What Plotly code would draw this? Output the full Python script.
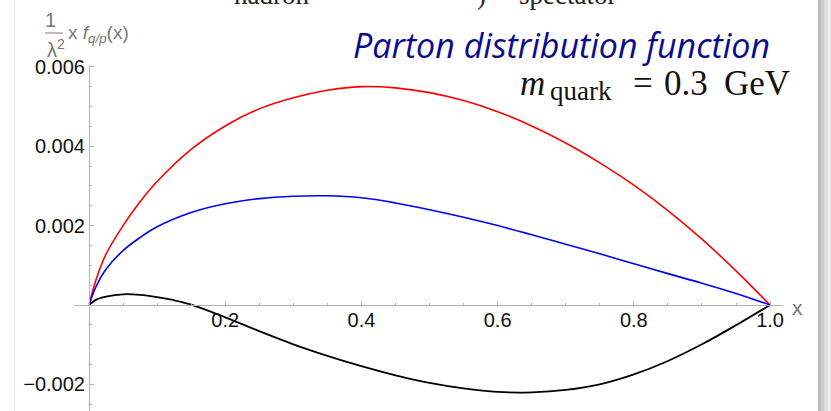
import plotly.graph_objects as go

# Parton distribution curves, (1/lambda^2) x f_{q/p}(x), m_quark = 0.3 GeV
x_red = [0, 0.01, 0.025, 0.05, 0.075, 0.1, 0.15, 0.2, 0.25, 0.3, 0.35, 0.4,
         0.45, 0.5, 0.55, 0.6, 0.65, 0.7, 0.75, 0.8, 0.85, 0.9, 0.95, 1.0]
y_red = [0, 0.00062, 0.00128, 0.00200, 0.00260, 0.00311, 0.00392, 0.00451,
         0.00494, 0.00522, 0.00541, 0.00550, 0.00547, 0.00535, 0.00515,
         0.00487, 0.00451, 0.00408, 0.00358, 0.00302, 0.00238, 0.00166,
         0.00086, 0]

x_blue = [0, 0.01, 0.025, 0.05, 0.075, 0.1, 0.15, 0.2, 0.25, 0.3, 0.35, 0.4,
          0.45, 0.5, 0.55, 0.6, 0.65, 0.7, 0.75, 0.8, 0.85, 0.9, 0.95, 1.0]
y_blue = [0, 0.00045, 0.00090, 0.00137, 0.00170, 0.00197, 0.00233, 0.00255,
          0.00268, 0.00274, 0.00275, 0.00270, 0.00257, 0.00240, 0.00221,
          0.00200, 0.00177, 0.00153, 0.00129, 0.00104, 0.00079, 0.00055,
          0.00029, 0]

x_black = [0, 0.01, 0.025, 0.05, 0.075, 0.1, 0.125, 0.15, 0.2, 0.25, 0.3,
           0.35, 0.4, 0.45, 0.5, 0.55, 0.6, 0.65, 0.7, 0.75, 0.8, 0.85, 0.9,
           0.95, 1.0]
y_black = [0, 0.00013, 0.00021, 0.00027, 0.000255, 0.00020, 0.00012, 0.00001,
           -0.00031, -0.00066, -0.00099, -0.00128, -0.00154, -0.00177,
           -0.00196, -0.00210, -0.00219, -0.00220, -0.00214, -0.00200,
           -0.00175, -0.00141, -0.00099, -0.00051, 0]

x_ticks = [0.2, 0.4, 0.6, 0.8, 1.0]
x_ticklabels = ["0.2", "0.4", "0.6", "0.8", "1.0"]
y_ticks = [-0.002, 0, 0.002, 0.004, 0.006]
y_ticklabels = ["\u22120.002", "", "0.002", "0.004", "0.006"]

W, H = 831, 411
ML, MR, MT, MB = 74, 48, 65, 0
X_RANGE = [-0.022, 1.019]
Y_RANGE = [-0.00267, 0.006045]
AXIS_GRAY = "#b4b4b4"
LABEL_GRAY = "#777777"
SANS = "Liberation Sans, Arial, sans-serif"
SERIF = "Liberation Serif, Times New Roman, serif"


def px(xp):
    """page pixel x -> paper x"""
    return (xp - ML) / (W - ML - MR)


def py(yp):
    """page pixel y -> paper y"""
    return (H - MB - yp) / (H - MT - MB)


fig = go.Figure()
fig.add_trace(go.Scatter(x=x_red, y=y_red, mode="lines", line_shape="spline",
                         line=dict(color="#ff0000", width=1.6)))
fig.add_trace(go.Scatter(x=x_blue, y=y_blue, mode="lines", line_shape="spline",
                         line=dict(color="#0000ff", width=1.6)))
fig.add_trace(go.Scatter(x=x_black, y=y_black, mode="lines", line_shape="spline",
                         line=dict(color="#000000", width=1.8)))

# axes cross at the origin
x0_paper = (0 - X_RANGE[0]) / (X_RANGE[1] - X_RANGE[0])
y0_paper = (0 - Y_RANGE[0]) / (Y_RANGE[1] - Y_RANGE[0])

tickfont = dict(family=SANS, size=20, color="#111111")

fig.update_layout(
    width=W, height=H,
    margin=dict(l=ML, r=MR, t=MT, b=MB, autoexpand=False),
    paper_bgcolor="white", plot_bgcolor="white",
    showlegend=False,
    xaxis=dict(
        range=X_RANGE, anchor="free", position=y0_paper,
        showgrid=False, zeroline=False, showline=True,
        linecolor=AXIS_GRAY, linewidth=1,
        tickmode="array", tickvals=x_ticks, ticktext=x_ticklabels,
        ticks="inside", ticklen=4, tickcolor=AXIS_GRAY,
        minor=dict(tickmode="linear", tick0=0, dtick=0.05, ticks="inside",
                   ticklen=2, tickcolor=AXIS_GRAY),
        tickfont=tickfont, ticklabelstandoff=-3, automargin=False,
    ),
    yaxis=dict(
        range=Y_RANGE, anchor="free", position=x0_paper,
        showgrid=False, zeroline=False, showline=True,
        linecolor=AXIS_GRAY, linewidth=1,
        tickmode="array", tickvals=y_ticks, ticktext=y_ticklabels,
        ticks="inside", ticklen=4, tickcolor=AXIS_GRAY,
        minor=dict(tickmode="linear", tick0=0, dtick=0.0005, ticks="inside",
                   ticklen=2, tickcolor=AXIS_GRAY),
        tickfont=tickfont, automargin=False,
    ),
)


def note(text, x, y, family, size, color, xanchor="left"):
    return dict(text=text, x=px(x), y=py(y), xref="paper", yref="paper",
                xanchor=xanchor, yanchor="middle", showarrow=False,
                font=dict(family=family, size=size, color=color))


annotations = [
    # y-axis label: (1/lambda^2) x f_{q/p}(x)
    note("1", 50, 20, SANS, 20, LABEL_GRAY, "center"),
    note("\u03bb<sup>2</sup>", 45, 48, SANS, 20, LABEL_GRAY),
    note("x <i>f</i><sub><i>q/p</i></sub>(x)", 66, 34, SANS, 19, LABEL_GRAY),
    # x-axis label
    note("x", 797, 307, SANS, 21, LABEL_GRAY, "center"),
    # heading
    note("<i>Parton distribution function</i>", 772, 45, "Open Sans, sans-serif",
         34, "#0b0b90", "right"),
    # m_quark = 0.3 GeV
    note("<i>m</i>", 518, 83, SERIF, 35, "#111111"),
    note("quark", 548, 91, SERIF, 27, "#111111"),
    note("=", 643, 83, SERIF, 35, "#111111", "center"),
    note("0.3", 662, 83, SERIF, 35, "#111111"),
    note("GeV", 722, 83, SERIF, 35, "#111111"),
]
# line of text running off the top edge
for txt, xc in [("hadron", 271), (")", 481), ("spectator", 567)]:
    annotations.append(note(txt, xc, -5, SERIF, 27, "#222222", "center"))
fig.update_layout(annotations=annotations)

shapes = []
# fraction bar in the y-axis label
shapes.append(dict(type="line", xref="paper", yref="paper",
                   x0=px(45), x1=px(63), y0=py(33), y1=py(33),
                   line=dict(color=LABEL_GRAY, width=1)))
# faint slide edge on the left and drop shadow on the right
shapes.append(dict(type="line", xref="paper", yref="paper",
                   x0=px(14.5), x1=px(14.5), y0=py(0), y1=py(H),
                   line=dict(color="#ededed", width=1)))
for x_a, x_b, col in [(818, 821, "#bdbdbd"), (821, 824, "#cdcdcd"),
                      (824, 828, "#dedede"), (828, 831, "#eeeeee")]:
    shapes.append(dict(type="rect", xref="paper", yref="paper",
                       x0=px(x_a), x1=px(x_b), y0=py(H), y1=py(0),
                       line=dict(width=0), fillcolor=col, layer="above"))
fig.update_layout(shapes=shapes)

fig.write_html("out.html")
